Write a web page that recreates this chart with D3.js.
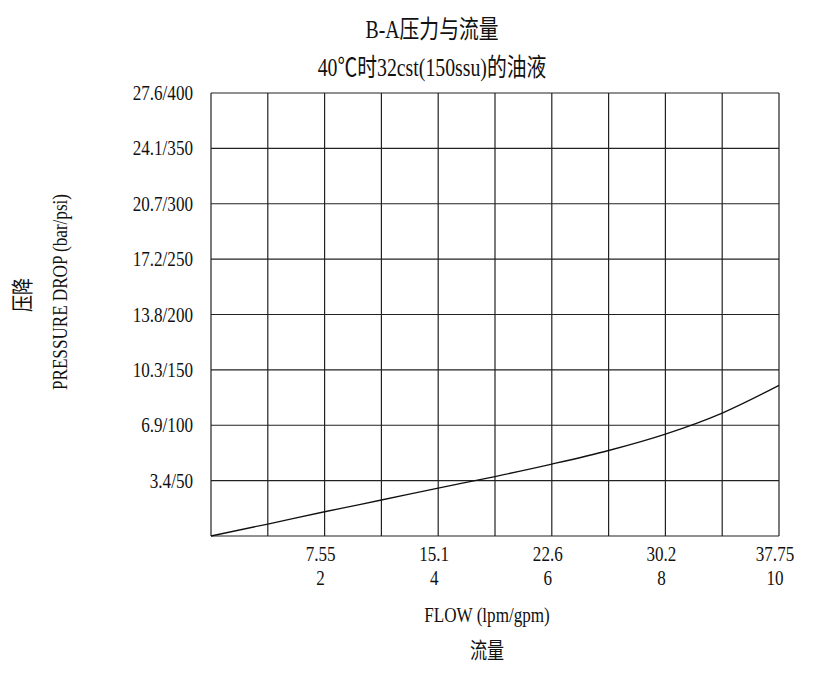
<!DOCTYPE html>
<html><head><meta charset="utf-8">
<script src="https://d3js.org/d3.v7.min.js"></script>
<style>body{margin:0;background:#fff}text{font-family:"Liberation Serif","Noto Sans CJK SC",serif;fill:#111}</style>
</head><body>
<script>
// data
var gpm = [0,1,2,3,4,5,6,7,8,9,10];
var psi = [0,10.8,21.9,32.5,43.2,53.7,64.9,77.2,92,111,136];
var yTicks = [50,100,150,200,250,300,350,400];
var yLabels = ["3.4/50","6.9/100","10.3/150","13.8/200","17.2/250","20.7/300","24.1/350","27.6/400"];
var xTicks = [2,4,6,8,10];
var xLpm = ["7.55","15.1","22.6","30.2","37.75"];

var svg = d3.select("body").append("svg").attr("width",831).attr("height",681);
var x = d3.scaleLinear().domain([0,10]).range([211,779]);
var y = d3.scaleLinear().domain([0,400]).range([536,93]);

//grid
svg.append("g").selectAll("line").data(d3.range(0,10.5,1)).enter().append("line")
  .attr("x1",d=>x(d)).attr("x2",d=>x(d)).attr("y1",y(0)).attr("y2",y(400))
  .attr("stroke","#222").attr("stroke-width",1.2);
svg.append("g").selectAll("line").data(d3.range(0,401,50)).enter().append("line")
  .attr("x1",x(0)).attr("x2",x(10)).attr("y1",d=>y(d)).attr("y2",d=>y(d))
  .attr("stroke","#222").attr("stroke-width",1.2);

//condensed tall text helper
function tall(g, px, py, size, txt, rot){
  return g.append("text")
    .attr("transform","translate("+px+","+py+")"+(rot?" rotate(-90)":"")+" scale(0.9,1.15)")
    .attr("font-size",size).attr("text-anchor","middle").text(txt);
}

//y labels
svg.append("g").selectAll("text").data(yTicks).enter().append("text")
  .attr("transform",d=>"translate(193,"+(y(d)+7)+") scale(0.95,1.15)")
  .attr("text-anchor","end").attr("font-size",18)
  .text((d,i)=>yLabels[i]);
//x labels
var xl = svg.append("g").selectAll("g").data(xTicks).enter().append("g");
xl.append("text").attr("transform",d=>"translate("+(x(d)-4)+",561) scale(0.95,1.15)").attr("text-anchor","middle").attr("font-size",18).text((d,i)=>xLpm[i]);
xl.append("text").attr("transform",d=>"translate("+(x(d)-4)+",585) scale(0.95,1.15)").attr("text-anchor","middle").attr("font-size",18).text(d=>d);

//curve
var line = d3.line().x(d=>x(d[0])).y(d=>y(d[1])).curve(d3.curveMonotoneX);
svg.append("path").datum(gpm.map((g,i)=>[g,psi[i]])).attr("d",line)
  .attr("fill","none").attr("stroke","#111").attr("stroke-width",1.3);

//titles
tall(svg,432,38,22,"B-A压力与流量");
tall(svg,432,76,22,"40℃时32cst(150ssu)的油液");
tall(svg,487,622,19,"FLOW (lpm/gpm)");
tall(svg,487,658,19,"流量");
tall(svg,30,295,19,"压降",true);
tall(svg,67,292,19,"PRESSURE DROP (bar/psi)",true);
</script>
</body></html>
